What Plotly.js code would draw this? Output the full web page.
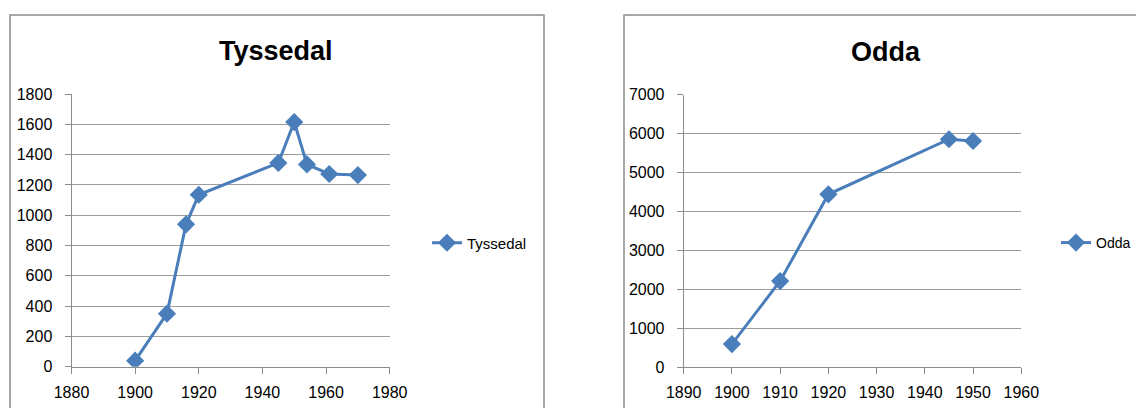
<!DOCTYPE html>
<html>
<head>
<meta charset="utf-8">
<script src="https://cdn.plot.ly/plotly-3.0.1.min.js"></script>
<style>
  html, body { margin: 0; padding: 0; background: #ffffff; }
  #chart { width: 1136px; height: 408px; }
</style>
</head>
<body>
<div id="chart"></div>
<script>
// Tyssedal population
const tyssedalYears = [1900, 1910, 1916, 1920, 1945, 1950, 1954, 1961, 1970];
const tyssedalValues = [40, 350, 940, 1135, 1345, 1615, 1335, 1272, 1265];
// Odda population
const oddaYears = [1900, 1910, 1920, 1945, 1950];
const oddaValues = [590, 2210, 4440, 5855, 5810];

const W = 1136, H = 408;
const px = v => v / W;
const py = v => 1 - v / H;

const FONT = '"Liberation Sans", Arial, sans-serif';
const BLUE = '#4a7ebb';
const GRID = '#9c9c9c';
const AXIS = '#8c8c8c';

const traceStyle = {
  mode: 'lines+markers',
  line: { color: BLUE, width: 3 },
  marker: { symbol: 'diamond', size: 14, color: BLUE }
};

const traces = [
  Object.assign({}, traceStyle, {
    x: tyssedalYears, y: tyssedalValues, name: 'Tyssedal',
    xaxis: 'x', yaxis: 'y', legend: 'legend'
  }),
  Object.assign({}, traceStyle, {
    x: oddaYears, y: oddaValues, name: 'Odda',
    xaxis: 'x2', yaxis: 'y2', legend: 'legend2'
  })
];

function xAxis(domain, range, dtick, anchor) {
  return {
    domain: domain, range: range, dtick: dtick, tick0: range[0], anchor: anchor,
    showgrid: false, zeroline: false, showline: true, linecolor: AXIS, linewidth: 1,
    ticks: 'outside', ticklen: 6, tickcolor: AXIS, tickwidth: 1,
    ticklabelstandoff: 5,
    tickfont: { family: FONT, size: 16, color: '#000' }, fixedrange: true
  };
}
function yAxis(domain, range, dtick, anchor) {
  return {
    domain: domain, range: range, dtick: dtick, tick0: 0, anchor: anchor,
    showgrid: true, gridcolor: GRID, gridwidth: 1,
    zeroline: false, showline: true, linecolor: AXIS, linewidth: 1,
    ticks: 'outside', ticklen: 6, tickcolor: AXIS, tickwidth: 1,
    ticklabelstandoff: 9,
    tickfont: { family: FONT, size: 16, color: '#000' }, fixedrange: true
  };
}

const layout = {
  width: W, height: H,
  margin: { l: 0, r: 0, t: 0, b: 0, autoexpand: false },
  paper_bgcolor: '#ffffff', plot_bgcolor: '#ffffff',
  showlegend: true,
  xaxis: xAxis([px(71.5), px(389.7)], [1880, 1980], 20, 'y'),
  yaxis: yAxis([1 - 366.7 / H, 1 - 94 / H], [0, 1800], 200, 'x'),
  xaxis2: xAxis([px(683.7), px(1021.3)], [1890, 1960], 10, 'y2'),
  yaxis2: yAxis([1 - 367 / H, 1 - 94.7 / H], [0, 7000], 1000, 'x2'),
  legend: {
    x: px(427), y: py(243), xanchor: 'left', yanchor: 'middle',
    bgcolor: 'rgba(0,0,0,0)', font: { family: FONT, size: 15, color: '#000' },
    itemwidth: 30
  },
  legend2: {
    x: px(1056), y: py(243), xanchor: 'left', yanchor: 'middle',
    bgcolor: 'rgba(0,0,0,0)', font: { family: FONT, size: 14, color: '#000' },
    itemwidth: 30
  },
  annotations: [
    { text: '<b>Tyssedal</b>', xref: 'paper', yref: 'paper', x: px(276), y: py(51),
      xanchor: 'center', yanchor: 'middle', showarrow: false,
      font: { family: FONT, size: 27, color: '#000' } },
    { text: '<b>Odda</b>', xref: 'paper', yref: 'paper', x: px(886), y: py(52),
      xanchor: 'center', yanchor: 'middle', showarrow: false,
      font: { family: FONT, size: 27, color: '#000' } }
  ],
  shapes: [
    { type: 'rect', xref: 'paper', yref: 'paper', x0: px(10), x1: px(544), y0: -0.1, y1: py(15),
      line: { color: '#8c8c8c', width: 1.5 }, fillcolor: 'rgba(0,0,0,0)', layer: 'below' },
    { type: 'rect', xref: 'paper', yref: 'paper', x0: px(624), x1: 1.1, y0: -0.1, y1: py(15),
      line: { color: '#8c8c8c', width: 1.5 }, fillcolor: 'rgba(0,0,0,0)', layer: 'below' }
  ]
};

Plotly.newPlot('chart', traces, layout, { displayModeBar: false, staticPlot: true });
</script>
</body>
</html>
